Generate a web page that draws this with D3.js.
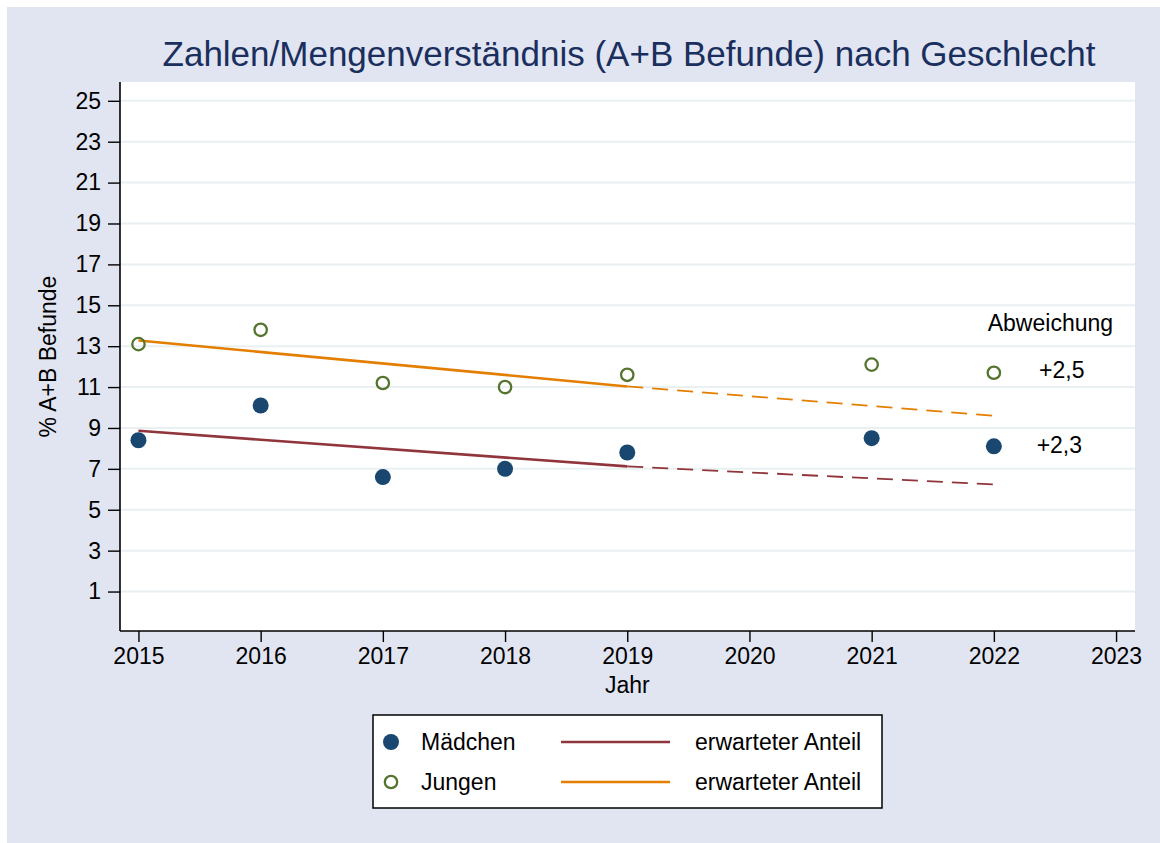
<!DOCTYPE html>
<html>
<head>
<meta charset="utf-8">
<script src="https://cdn.jsdelivr.net/npm/d3@7"></script>
<style>
  html, body { margin: 0; padding: 0; background: #ffffff; }
  svg { display: block; font-family: "Liberation Sans", Arial, sans-serif; }
</style>
</head>
<body>
<svg id="chart" width="1160" height="843"></svg>
<script>
// Observed shares of A+B findings per year
const years = [2015, 2016, 2017, 2018, 2019, 2021, 2022];
const maedchen = [8.4, 10.1, 6.6, 7.0, 7.8, 8.5, 8.1];
const jungen = [13.1, 13.8, 11.2, 11.0, 11.6, 12.1, 11.7];

// Expected share: fitted trend (solid) and projection (dashed)
const fitYears = [2015, 2019];
const fitMaedchen = [8.86, 7.12];
const fitJungen = [13.28, 11.03];
const projYears = [2019, 2022];
const projMaedchen = [7.12, 6.24];
const projJungen = [11.03, 9.6];

// Axis ticks
const xTicks = [2015, 2016, 2017, 2018, 2019, 2020, 2021, 2022, 2023];
const yTicks = [1, 3, 5, 7, 9, 11, 13, 15, 17, 19, 21, 23, 25];

// Deviation notes next to the 2022 values
const notes = [
  { text: "Abweichung", year: 2021.95, value: 13.75 },
  { text: "+2,5", year: 2022.37, value: 11.45 },
  { text: "+2,3", year: 2022.35, value: 7.78 }
];

const colMaedchen = "#1a476f";
const colJungen = "#55752f";
const colFitM = "#90353b";
const colFitJ = "#e37e00";
const FS = 23;

const svg = d3.select("#chart");
const W = 1160, H = 843;

// Graph region background
svg.append("rect").attr("x", 7).attr("y", 7).attr("width", W - 7).attr("height", H - 7)
  .attr("fill", "#e1e5f1");

const plot = { left: 120, right: 1135, top: 82, bottom: 631 };

const x = d3.scaleLinear().domain([2014.849, 2023.155]).range([plot.left, plot.right]);
const y = d3.scaleLinear().domain([-0.93, 25.92]).range([plot.bottom, plot.top]);

// Plot region
svg.append("rect").attr("x", plot.left).attr("y", plot.top)
  .attr("width", plot.right - plot.left).attr("height", plot.bottom - plot.top)
  .attr("fill", "#ffffff");

// Gridlines
svg.append("g").selectAll("line").data(yTicks).join("line")
  .attr("x1", plot.left).attr("x2", plot.right)
  .attr("y1", d => y(d)).attr("y2", d => y(d))
  .attr("stroke", "#eaf0f2").attr("stroke-width", 2);

// Axes
const yAxis = svg.append("g").attr("transform", `translate(${plot.left},0)`)
  .call(d3.axisLeft(y).tickValues(yTicks).tickSize(12).tickPadding(7).tickFormat(d3.format("d")));
const xAxis = svg.append("g").attr("transform", `translate(0,${plot.bottom})`)
  .call(d3.axisBottom(x).tickValues(xTicks).tickSize(11).tickPadding(6).tickFormat(d3.format("d")));

[yAxis, xAxis].forEach(g => {
  g.select(".domain").attr("stroke", "#000").attr("stroke-width", 1.6);
  g.selectAll(".tick line").attr("stroke", "#000").attr("stroke-width", 1.4);
  g.selectAll(".tick text").attr("fill", "#000").attr("font-size", FS)
    .attr("font-family", "Liberation Sans, Arial, sans-serif");
});
// Keep the axis lines exactly on the plot region
yAxis.select(".domain").attr("d", `M0,${plot.top}V${plot.bottom}`);
xAxis.select(".domain").attr("d", `M${plot.left},0H${plot.right}`);

// Axis titles
svg.append("text").attr("x", x(2019)).attr("y", 693)
  .attr("text-anchor", "middle").attr("font-size", FS).attr("fill", "#000").text("Jahr");
svg.append("text").attr("transform", `translate(56,${(plot.top + plot.bottom) / 2}) rotate(-90)`)
  .attr("text-anchor", "middle").attr("font-size", FS).attr("fill", "#000").text("% A+B Befunde");

// Title
svg.append("text").attr("x", 629).attr("y", 66).attr("text-anchor", "middle")
  .attr("font-size", 35).attr("fill", "#1a2f5e")
  .text("Zahlen/Mengenverständnis (A+B Befunde) nach Geschlecht");

// Trend lines
const line = d3.line().x(d => x(d[0])).y(d => y(d[1]));
const trends = [
  { yrs: fitYears, vals: fitJungen, color: colFitJ, dash: null, w: 2.6 },
  { yrs: fitYears, vals: fitMaedchen, color: colFitM, dash: null, w: 2.6 },
  { yrs: projYears, vals: projJungen, color: colFitJ, dash: "16,9", w: 1.8 },
  { yrs: projYears, vals: projMaedchen, color: colFitM, dash: "16,9", w: 1.8 }
];
svg.append("g").selectAll("path").data(trends).join("path")
  .attr("d", t => line(t.yrs.map((yr, i) => [yr, t.vals[i]])))
  .attr("fill", "none").attr("stroke", t => t.color)
  .attr("stroke-width", t => t.w)
  .attr("stroke-dasharray", t => t.dash);

// Points
svg.append("g").selectAll("circle").data(years.map((yr, i) => [yr, jungen[i]])).join("circle")
  .attr("cx", d => x(d[0])).attr("cy", d => y(d[1])).attr("r", 6.2)
  .attr("fill", "none").attr("stroke", colJungen).attr("stroke-width", 2.3);
svg.append("g").selectAll("circle").data(years.map((yr, i) => [yr, maedchen[i]])).join("circle")
  .attr("cx", d => x(d[0])).attr("cy", d => y(d[1])).attr("r", 8)
  .attr("fill", colMaedchen);

// Deviation notes
svg.append("g").selectAll("text").data(notes).join("text")
  .attr("x", d => x(d.year)).attr("y", d => y(d.value))
  .attr("font-size", FS).attr("fill", "#000").text(d => d.text);

// Legend
const lg = svg.append("g");
lg.append("rect").attr("x", 373).attr("y", 715).attr("width", 509).attr("height", 93)
  .attr("fill", "#ffffff").attr("stroke", "#000").attr("stroke-width", 1.5);
const rows = [
  { label: "Mädchen", filled: true, color: colMaedchen, fit: colFitM, cy: 742 },
  { label: "Jungen", filled: false, color: colJungen, fit: colFitJ, cy: 782 }
];
rows.forEach(r => {
  if (r.filled) {
    lg.append("circle").attr("cx", 391).attr("cy", r.cy).attr("r", 8).attr("fill", r.color);
  } else {
    lg.append("circle").attr("cx", 391).attr("cy", r.cy).attr("r", 6.2)
      .attr("fill", "none").attr("stroke", r.color).attr("stroke-width", 2.3);
  }
  lg.append("text").attr("x", 421).attr("y", r.cy + 8).attr("font-size", FS).attr("fill", "#000").text(r.label);
  lg.append("line").attr("x1", 561).attr("x2", 670).attr("y1", r.cy).attr("y2", r.cy)
    .attr("stroke", r.fit).attr("stroke-width", 2.6);
  lg.append("text").attr("x", 695).attr("y", r.cy + 8).attr("font-size", FS).attr("fill", "#000").text("erwarteter Anteil");
});
</script>
</body>
</html>
